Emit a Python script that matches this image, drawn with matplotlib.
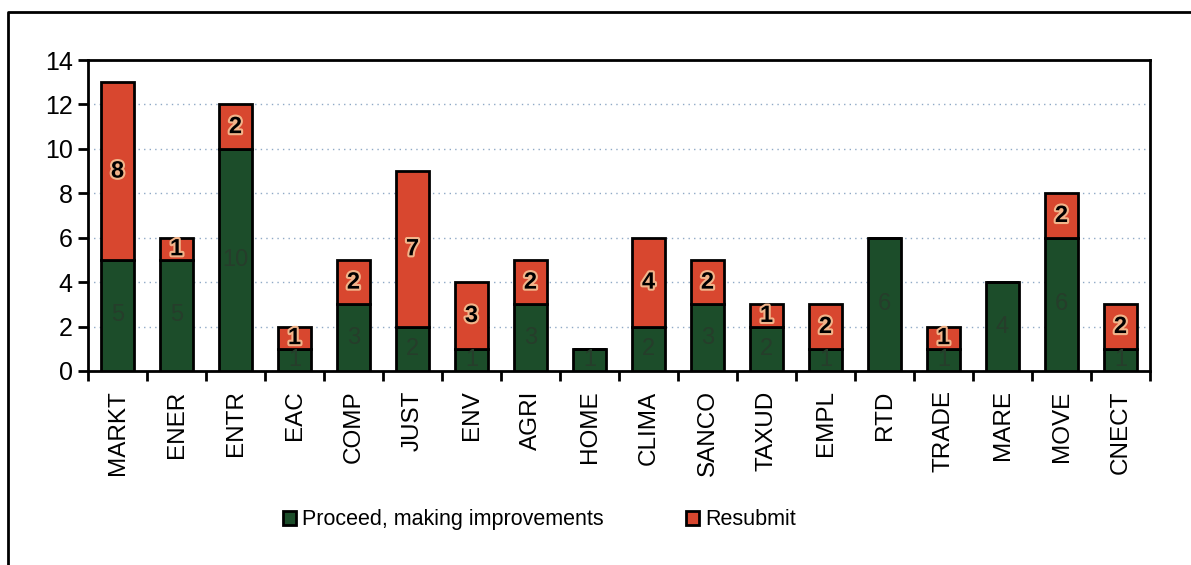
import numpy as np
import matplotlib.pyplot as plt
import matplotlib.patheffects as pe
from matplotlib.lines import Line2D

categories = ['MARKT', 'ENER', 'ENTR', 'EAC', 'COMP', 'JUST', 'ENV', 'AGRI', 'HOME',
              'CLIMA', 'SANCO', 'TAXUD', 'EMPL', 'RTD', 'TRADE', 'MARE', 'MOVE', 'CNECT']
proceed = [5, 5, 10, 1, 3, 2, 1, 3, 1, 2, 3, 2, 1, 6, 1, 4, 6, 1]
resubmit = [8, 1, 2, 1, 2, 7, 3, 2, 0, 4, 2, 1, 2, 0, 1, 0, 2, 2]
yticks = [0, 2, 4, 6, 8, 10, 12, 14]

green = '#1c4d2a'
red = '#d8472f'

plt.rcParams['font.family'] = ['Liberation Sans', 'DejaVu Sans']

fig = plt.figure(figsize=(11.91, 5.65), dpi=100)
ax = fig.add_axes([0.0739, 0.3434, 0.8917, 0.5504])

x = np.arange(len(categories))
w = 0.55
ax.bar(x, proceed, w, color=green, edgecolor='black', linewidth=2,
       label='Proceed, making improvements', zorder=3)
ax.bar(x, resubmit, w, bottom=proceed, color=red, edgecolor='black', linewidth=2,
       label='Resubmit', zorder=3)

# segment labels
for xi, g, r in zip(x, proceed, resubmit):
    if g > 0:
        ax.text(xi, g / 2, str(g), ha='center', va='center', fontsize=17,
                color='#263d2b', zorder=4)
    if r > 0:
        ax.text(xi, g + r / 2, str(r), ha='center', va='center', fontsize=17,
                fontweight='bold', color='black', zorder=4,
                path_effects=[pe.withStroke(linewidth=3, foreground='#f2b48a')])

ax.set_xlim(-0.5, len(categories) - 0.5)
ax.set_ylim(0, 14)
ax.set_yticks(yticks)
ax.set_xticks(x)
ax.set_xticklabels(categories, rotation=90)
ax.set_xticks(np.arange(-0.5, len(categories)), minor=True)
ax.tick_params(axis='x', which='major', length=0, pad=14, labelsize=17.5)
ax.tick_params(axis='x', which='minor', length=7, width=2, direction='out')
ax.tick_params(axis='y', length=7, width=2, direction='out', labelsize=18, pad=4)

ax.grid(axis='y', linestyle=(0, (1, 3)), color='#8fa9c6', linewidth=1, zorder=0)
for s in ax.spines.values():
    s.set_linewidth(2)

ax.legend(loc='center', bbox_to_anchor=(0.425, -0.479), ncol=2, frameon=False,
          fontsize=15.5, handlelength=0.6, handleheight=0.6, handletextpad=0.3,
          columnspacing=3.8)

# outer frame
fig.add_artist(Line2D([8 / 1191, 8 / 1191, 1.0], [0.0, 1 - 12 / 565, 1 - 12 / 565],
                      transform=fig.transFigure, color='black', linewidth=2))

fig.savefig('out.png', dpi=100)
